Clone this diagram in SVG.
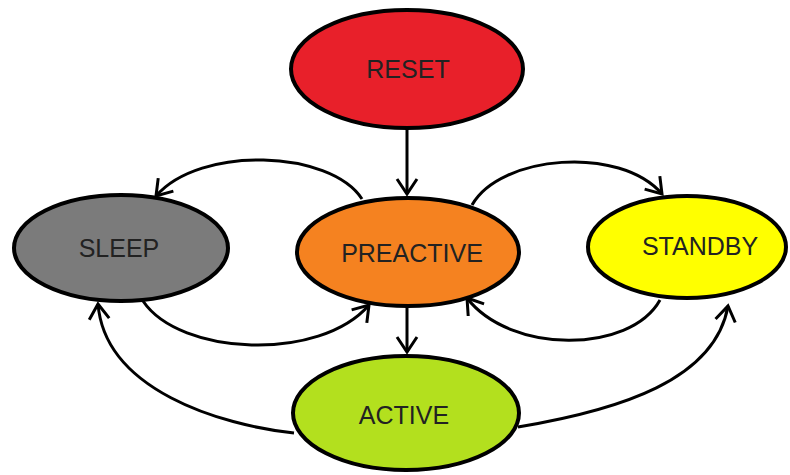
<svg xmlns="http://www.w3.org/2000/svg" width="790" height="475" viewBox="0 0 790 475">
  <style>
    .state { stroke: #000; stroke-width: 4; }
    .label { font-family: "Liberation Sans", Arial, sans-serif; font-size: 25px; fill: #222; text-anchor: middle; }
    .edge { fill: none; stroke: #000; stroke-width: 3; marker-end: url(#chevron); }
  </style>
  <defs>
    <marker id="chevron" markerUnits="userSpaceOnUse" markerWidth="30" markerHeight="30" viewBox="-20 -15 30 30" refX="0" refY="0" orient="auto" overflow="visible">
      <path d="M-15,-10 L0,0 L-15,10" fill="none" stroke="#000" stroke-width="3" stroke-linejoin="miter"/>
    </marker>
  </defs>
  <rect width="790" height="475" fill="#fff"/>

  <g id="connectors">
    <path class="edge" d="M407,128 L407,194"/>
    <path class="edge" d="M407,306 L407,352"/>
    <path class="edge" d="M362,199 C330,150 200,145 156,196"/>
    <path class="edge" d="M143,301 C180,356 320,362 369,305"/>
    <path class="edge" d="M472,205 C500,155 620,145 662,194"/>
    <path class="edge" d="M660,300 C630,354 510,354 467,298"/>
    <path class="edge" d="M294,433 C220,425 105,390 98,304"/>
    <path class="edge" d="M518,427 C620,410 715,380 728,306"/>
  </g>

  <g id="reset">
    <ellipse class="state" cx="407" cy="69" rx="116" ry="59" fill="#e8202a"/>
    <text class="label" x="408" y="78">RESET</text>
  </g>
  <g id="preactive">
    <ellipse class="state" cx="408" cy="252" rx="111" ry="54" fill="#f58220"/>
    <text class="label" x="412" y="262">PREACTIVE</text>
  </g>
  <g id="sleep">
    <ellipse class="state" cx="121" cy="248" rx="107" ry="53" fill="#7b7b7b"/>
    <text class="label" x="119" y="257">SLEEP</text>
  </g>
  <g id="standby">
    <ellipse class="state" cx="687" cy="247" rx="99" ry="51" fill="#ffff00"/>
    <text class="label" x="700" y="255">STANDBY</text>
  </g>
  <g id="active">
    <ellipse class="state" cx="406" cy="413" rx="113" ry="57" fill="#b3e01e"/>
    <text class="label" x="404" y="424">ACTIVE</text>
  </g>
</svg>
